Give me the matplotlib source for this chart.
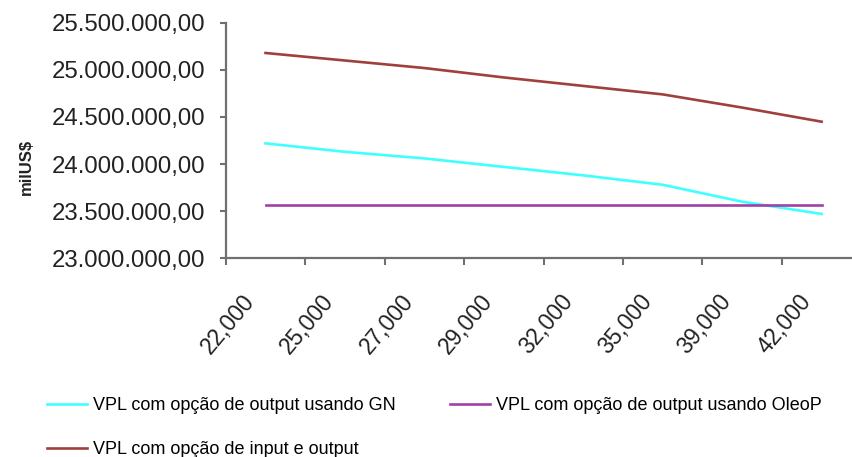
import matplotlib
matplotlib.use("Agg")
import matplotlib.pyplot as plt
from matplotlib.ticker import FuncFormatter, FixedLocator
from matplotlib.transforms import ScaledTranslation

plt.rcParams['font.family'] = ['Liberation Sans', 'DejaVu Sans']

categories = ["22,000", "25,000", "27,000", "29,000", "32,000", "35,000", "39,000", "42,000"]
vpl_gn = [24.22e6, 24.13e6, 24.06e6, 23.97e6, 23.88e6, 23.78e6, 23.60e6, 23.47e6]
vpl_oleo = [23.56e6] * 8
vpl_io = [25.18e6, 25.10e6, 25.02e6, 24.92e6, 24.83e6, 24.74e6, 24.60e6, 24.45e6]

labels = ["VPL com opção de output usando GN",
          "VPL com opção de output usando OleoP",
          "VPL com opção de input e output"]
colors = ["#40FFFF", "#A040A8", "#A0403C"]

fig = plt.figure(figsize=(8.52, 4.57), dpi=100)
ax = fig.add_axes([0.265, 0.435, 0.746, 0.515])

x = list(range(len(categories)))
h_gn, = ax.plot(x, vpl_gn, color=colors[0], lw=1.9)
h_ol, = ax.plot(x, vpl_oleo, color=colors[1], lw=1.9)
h_io, = ax.plot(x, vpl_io, color=colors[2], lw=1.9)

ax.set_xlim(-0.5, len(categories) - 0.5)
ax.set_ylim(23.0e6, 25.5e6)
ax.set_yticks([23.0e6, 23.5e6, 24.0e6, 24.5e6, 25.0e6, 25.5e6])

def br(v, pos):
    s = f"{v:,.2f}"
    return s.replace(",", "X").replace(".", ",").replace("X", ".")
ax.yaxis.set_major_formatter(FuncFormatter(br))

# category labels, rotated, anchored left of and below each category position
ax.set_xticks(x)
ax.set_xticklabels([])
ax.tick_params(axis='x', which='major', length=0)
offset = ScaledTranslation(-0.15, -0.39, fig.dpi_scale_trans)
for xi, cat in zip(x, categories):
    ax.text(xi, 0, cat, transform=ax.get_xaxis_transform() + offset,
            rotation=50, ha='right', va='center', rotation_mode='anchor',
            fontsize=16.5, color='#222222', clip_on=False)

ax.xaxis.set_minor_locator(FixedLocator([i - 0.5 for i in range(len(categories) + 1)]))
ax.tick_params(axis='x', which='minor', length=5, width=1.5, color='#707070', direction='out')
ax.tick_params(axis='y', length=4, width=1.5, color='#707070', labelsize=17.3,
               labelcolor='#222222', pad=10.5)

for s in ['top', 'right']:
    ax.spines[s].set_visible(False)
for s in ['left', 'bottom']:
    ax.spines[s].set_color('#707070')
    ax.spines[s].set_linewidth(1.6)

fig.text(0.031, 0.635, "milUS$", rotation=90, ha='center', va='center',
         fontsize=12, fontweight='bold', color='#222222')

fig.legend([h_gn, h_io, h_ol], [labels[0], labels[2], labels[1]],
           ncol=2, loc='upper left', bbox_to_anchor=(0.055, 0.131),
           frameon=False, fontsize=13, handlelength=2.25, handletextpad=0.3,
           columnspacing=3.0, labelspacing=1.5, borderpad=0, borderaxespad=0)

fig.savefig("out.png", dpi=100)
